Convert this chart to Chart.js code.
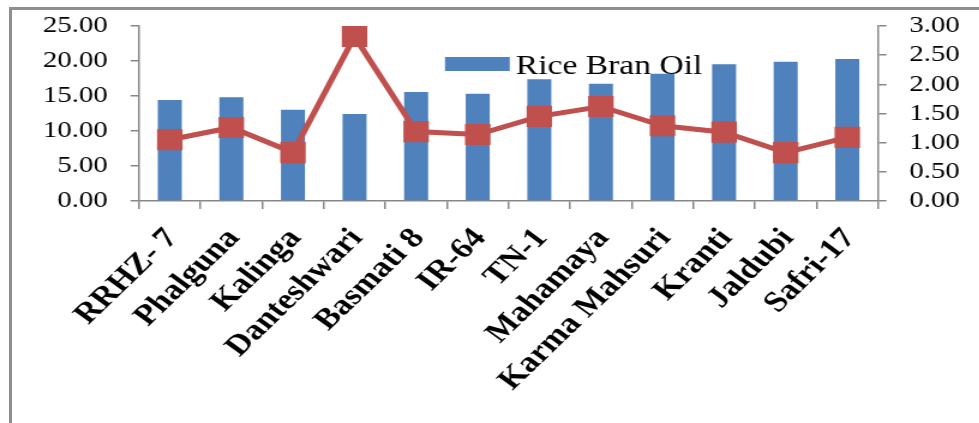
<!DOCTYPE html>
<html>
<head>
<meta charset="utf-8">
<script src="https://cdn.jsdelivr.net/npm/chart.js@4/dist/chart.umd.min.js"></script>
<style>
  html, body { margin: 0; padding: 0; background: #ffffff; width: 979px; height: 423px; overflow: hidden; }
  #frame { position: absolute; left: 9px; top: 7px; width: 990px; height: 440px;
           border-top: 3px solid #8e8e8e; border-left: 3px solid #8e8e8e; }
  #wrap { position: absolute; left: 0; top: 0; width: 816px; height: 423px;
          transform: scaleX(1.2); transform-origin: 0 0; }
</style>
</head>
<body>
<div id="frame"></div>
<div id="wrap"><canvas id="c" width="816" height="423"></canvas></div>
<script>
// ---- data ----
const categories = ['RRHZ- 7', 'Phalguna', 'Kalinga', 'Danteshwari', 'Basmati 8', 'IR-64',
                    'TN-1', 'Mahamaya', 'Karma Mahsuri', 'Kranti', 'Jaldubi', 'Safri-17'];
const barSeriesName = 'Rice Bran Oil';
const riceBranOil = [14.43, 14.81, 13.04, 12.43, 15.57, 15.33, 17.38, 16.76, 18.19, 19.52, 19.90, 20.29];
const lineSeriesName = 'Series 2';
const lineSeries = [1.05, 1.26, 0.83, 2.82, 1.19, 1.14, 1.45, 1.62, 1.29, 1.18, 0.83, 1.09];
const leftTicks = [0, 5, 10, 15, 20, 25];
const rightTicks = [0, 0.5, 1, 1.5, 2, 2.5, 3];

const SERIF = "'Liberation Serif', 'Times New Roman', serif";
const BLUE = '#4F81BD';
const RED = '#C0504D';
const AXIS = '#878787';

const legendPlugin = {
  id: 'insideLegend',
  afterDatasetsDraw(chart) {
    const ctx = chart.ctx;
    const a = chart.chartArea;
    const ds = chart.data.datasets[1];
    const bx = a.left + 255;
    const by = a.top + 31;
    ctx.save();
    ctx.fillStyle = ds.backgroundColor;
    ctx.fillRect(bx, by, 54, 14);
    ctx.fillStyle = '#000';
    ctx.font = '28px ' + SERIF;
    ctx.textBaseline = 'alphabetic';
    ctx.textAlign = 'left';
    ctx.fillText(ds.label, bx + 59, by + 17);
    ctx.restore();
  }
};

function fixVertical(width) {
  return function (s) {
    s.width = width;
    s.paddingTop = 10;
    s.paddingBottom = 10;
  };
}

new Chart(document.getElementById('c'), {
  data: {
    labels: categories,
    datasets: [
      {
        type: 'line',
        label: lineSeriesName,
        data: lineSeries,
        yAxisID: 'y1',
        order: 1,
        borderColor: RED,
        borderWidth: 5,
        backgroundColor: RED,
        pointStyle: 'rect',
        pointRadius: 15,
        pointBackgroundColor: RED,
        pointBorderColor: RED,
        pointBorderWidth: 0,
        tension: 0,
        fill: false
      },
      {
        type: 'bar',
        label: barSeriesName,
        data: riceBranOil,
        yAxisID: 'y',
        order: 2,
        backgroundColor: BLUE,
        borderWidth: 0,
        categoryPercentage: 1,
        barPercentage: 0.39
      }
    ]
  },
  options: {
    responsive: false,
    animation: false,
    layout: { padding: { left: 0, right: 0, top: 26, bottom: 0 } },
    plugins: { legend: { display: false }, tooltip: { enabled: false } },
    scales: {
      x: {
        offset: true,
        grid: { offset: true, drawOnChartArea: false, drawTicks: true, tickLength: 8, color: AXIS, lineWidth: 1.5 },
        border: { display: true, color: AXIS, width: 1.5 },
        ticks: {
          autoSkip: false,
          minRotation: 49, maxRotation: 49,
          padding: 13,
          labelOffset: 2,
          color: '#000',
          font: { family: SERIF, size: 29, weight: 'bold' }
        },
        afterFit(s) { s.height = 222; s.paddingLeft = 0; s.paddingRight = 0; }
      },
      y: {
        position: 'left',
        min: 0, max: 25,
        afterBuildTicks(s) { s.ticks = leftTicks.map(v => ({ value: v })); },
        grid: { drawOnChartArea: false, drawTicks: true, tickLength: 7, color: AXIS, lineWidth: 1.5 },
        border: { display: true, color: AXIS, width: 1.5 },
        ticks: {
          autoSkip: false,
          padding: 19,
          color: '#000',
          font: { family: SERIF, size: 24 },
          callback: v => Number(v).toFixed(2)
        },
        afterFit: fixVertical(115.8)
      },
      y1: {
        position: 'right',
        min: 0, max: 3,
        afterBuildTicks(s) { s.ticks = rightTicks.map(v => ({ value: v })); },
        grid: { drawOnChartArea: false, drawTicks: true, tickLength: 7, color: AXIS, lineWidth: 1.5 },
        border: { display: true, color: AXIS, width: 1.5 },
        ticks: {
          autoSkip: false,
          padding: 19,
          color: '#000',
          font: { family: SERIF, size: 24 },
          callback: v => Number(v).toFixed(2)
        },
        afterFit: fixVertical(84.3)
      }
    }
  },
  plugins: [legendPlugin]
});
</script>
</body>
</html>
